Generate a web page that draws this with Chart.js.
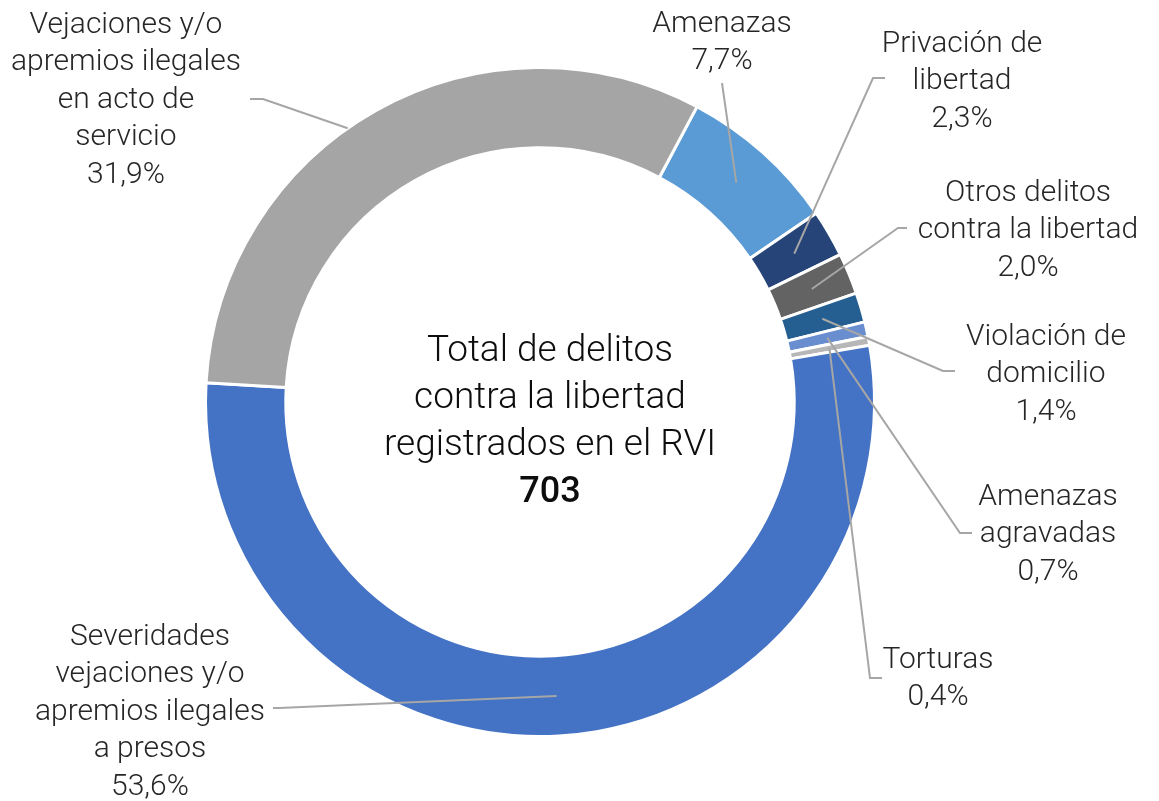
<!doctype html>
<html>

<head>
    <title>Delitos contra la libertad</title>
    <script src="https://cdn.jsdelivr.net/npm/chart.js"></script>
    <style>
        html, body { margin: 0; padding: 0; background: #fff; }
        #wrap { width: 1159px; height: 801px; }
    </style>
</head>

<body>
    <div id="wrap">
        <canvas id="grafico"></canvas>
    </div>

    <script>
        // datos (casos registrados en el RVI)
        var categorias = [
            ['Amenazas'],
            ['Privación de', 'libertad'],
            ['Otros delitos', 'contra la libertad'],
            ['Violación de', 'domicilio'],
            ['Amenazas', 'agravadas'],
            ['Torturas'],
            ['Severidades', 'vejaciones y/o', 'apremios ilegales', 'a presos'],
            ['Vejaciones y/o', 'apremios ilegales', 'en acto de', 'servicio']
        ];
        var casos = [54, 16, 14, 10, 5, 3, 377, 224];
        var colores = ['#5B9BD5', '#264478', '#636363', '#255E91', '#698ED0', '#B7B7B7', '#4472C4', '#A5A5A5'];
        var textoCentro = ['Total de delitos', 'contra la libertad', 'registrados en el RVI'];

        var total = casos.reduce((a, b) => a + b, 0);

        // posicion de cada etiqueta y de su linea guia
        var posEtiquetas = [
            { x: 722, y: 24, ax: 722, ay: 83, stub: 0 },
            { x: 962, y: 44, ax: 885, ay: 78, stub: -12 },
            { x: 1028, y: 193, ax: 907, ay: 228, stub: -9 },
            { x: 1046, y: 337, ax: 955, ay: 371, stub: -12 },
            { x: 1048, y: 497, ax: 972, ay: 533, stub: -12 },
            { x: 938, y: 660, ax: 882, ay: 678, stub: -12 },
            { x: 150, y: 637, ax: 273, ay: 708, stub: 6 },
            { x: 126, y: 25, ax: 250, ay: 99, stub: 13, f: 0.45, rf: 1 }
        ];

        var FUENTE = 'Roboto, "Noto Sans", sans-serif';

        var etiquetas = {
            id: 'etiquetas',
            afterDraw(chart) {
                var ctx = chart.ctx;
                var arcos = chart.getDatasetMeta(0).data;
                ctx.save();

                // lineas guia
                ctx.strokeStyle = '#A6A6A6';
                ctx.lineWidth = 2;
                arcos.forEach((arco, i) => {
                    var p = posEtiquetas[i];
                    var f = p.f == null ? 0.5 : p.f;
                    var rf = p.rf == null ? 0.5 : p.rf;
                    var ang = arco.startAngle + f * (arco.endAngle - arco.startAngle);
                    var r = arco.innerRadius + rf * (arco.outerRadius - arco.innerRadius);
                    var px = arco.x + r * Math.cos(ang);
                    var py = arco.y + r * Math.sin(ang);
                    ctx.beginPath();
                    ctx.moveTo(p.ax, p.ay);
                    ctx.lineTo(p.ax + p.stub, p.ay);
                    ctx.lineTo(px, py);
                    ctx.stroke();
                });

                // textos
                ctx.fillStyle = '#262626';
                ctx.font = '300 30px ' + FUENTE;
                ctx.textAlign = 'center';
                ctx.textBaseline = 'middle';
                categorias.forEach((lineas, i) => {
                    var p = posEtiquetas[i];
                    var pct = (casos[i] / total * 100).toFixed(1).replace('.', ',') + '%';
                    lineas.concat([pct]).forEach((t, k) => {
                        ctx.fillText(t, p.x, p.y + k * 37.5);
                    });
                });

                // texto central
                var cx = 550;
                var cy = 352;
                ctx.fillStyle = '#0D0D0D';
                ctx.font = '300 37px ' + FUENTE;
                textoCentro.forEach((t, k) => {
                    ctx.fillText(t, cx, cy + k * 47);
                });
                ctx.font = '500 36px ' + FUENTE;
                ctx.fillText(String(total), cx, cy + 3 * 47);
                ctx.restore();
            }
        };

        var grafico = new Chart(document.getElementById('grafico').getContext('2d'), {
            type: 'doughnut',
            data: {
                labels: categorias.map(l => l.join(' ')),
                datasets: [{
                    data: casos,
                    backgroundColor: colores,
                    borderColor: '#FFFFFF',
                    borderWidth: 3
                }]
            },
            options: {
                responsive: true,
                maintainAspectRatio: false,
                animation: false,
                rotation: 28,
                cutout: '76%',
                layout: {
                    padding: { left: 204, right: 283, top: 66, bottom: 63 }
                },
                plugins: {
                    legend: { display: false },
                    tooltip: { enabled: false }
                }
            },
            plugins: [etiquetas]
        });
    </script>
</body>

</html>
